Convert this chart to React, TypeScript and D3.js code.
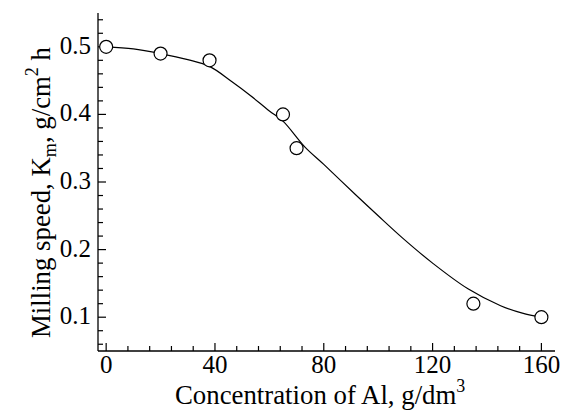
import React from "react";
import * as d3 from "d3";

const concentration = [0, 20, 38, 65, 70, 135, 160];
const millingSpeed = [0.5, 0.49, 0.48, 0.4, 0.35, 0.12, 0.1];

const fitX = [0, 10, 20, 30, 38, 46, 53, 60, 65, 73, 80, 92, 100, 109, 120, 133, 145, 153, 160];
const fitY = [0.5, 0.497, 0.49, 0.481, 0.471, 0.449, 0.428, 0.405, 0.39, 0.352, 0.326, 0.28, 0.25, 0.217, 0.18, 0.142, 0.117, 0.106, 0.1];

const xMajorTicks = [0, 40, 80, 120, 160];
const yMajorTicks = [0.1, 0.2, 0.3, 0.4, 0.5];
const xMinorStep = 8;
const yMinorStep = 0.02;

const W = 567;
const H = 412;
const FONT = "Liberation Serif";

export default function App() {
  const x = d3.scaleLinear().domain([-3, 165]).range([98, 555]);
  const y = d3.scaleLinear().domain([0.05, 0.55]).range([351, 13]);

  const xMinor = d3.range(0, 160 + 0.001, xMinorStep).filter((v) => !xMajorTicks.includes(v));
  const yMinor = d3
    .range(0.06, 0.5401, yMinorStep)
    .map((v) => Math.round(v * 100) / 100)
    .filter((v) => !yMajorTicks.some((m) => Math.abs(m - v) < 1e-6));

  const line = d3
    .line<number>()
    .x((_, i) => x(fitX[i]))
    .y((d) => y(d))
    .curve(d3.curveCatmullRom.alpha(0.5));

  const x0 = x.range()[0];
  const x1 = x.range()[1];
  const yb = y.range()[0];
  const yt = y.range()[1];
  const ts = { fontFamily: FONT };

  return (
    <svg
      width={W}
      height={H}
      style={{ position: "absolute", left: 0, top: 0, background: "#fff", fontFamily: FONT }}
    >
      <rect width={W} height={H} fill="#fff" />
      <line x1={x0} x2={x0} y1={yt} y2={yb} stroke="#000" strokeWidth={1.3} />
      <line x1={x0} x2={x1} y1={yb} y2={yb} stroke="#000" strokeWidth={1.3} />
      {xMajorTicks.map((t) => (
        <g key={"xM" + t}>
          <line x1={x(t)} x2={x(t)} y1={yb} y2={yb - 8} stroke="#000" strokeWidth={1.2} />
          <text x={x(t)} y={yb + 22} textAnchor="middle" fontSize={25} style={ts}>
            {t}
          </text>
        </g>
      ))}
      {xMinor.map((t) => (
        <line key={"xm" + t} x1={x(t)} x2={x(t)} y1={yb} y2={yb - 5} stroke="#000" strokeWidth={1.2} />
      ))}
      {yMajorTicks.map((t) => (
        <g key={"yM" + t}>
          <line x1={x0} x2={x0 + 8} y1={y(t)} y2={y(t)} stroke="#000" strokeWidth={1.2} />
          <text x={x0 - 7} y={y(t) + 7} textAnchor="end" fontSize={25} style={ts}>
            {t.toFixed(1)}
          </text>
        </g>
      ))}
      {yMinor.map((t) => (
        <line key={"ym" + t} x1={x0} x2={x0 + 5} y1={y(t)} y2={y(t)} stroke="#000" strokeWidth={1.2} />
      ))}
      <path d={line(fitY) || ""} fill="none" stroke="#000" strokeWidth={1.2} />
      {concentration.map((c, i) => (
        <circle key={"p" + i} cx={x(c)} cy={y(millingSpeed[i])} r={6.5} fill="#fff" stroke="#000" strokeWidth={1.2} />
      ))}
      <text x={175} y={404} fontSize={26.8} style={ts}>
        Concentration of Al, g/dm
        <tspan fontSize={18} dy={-12}>3</tspan>
      </text>
      <text transform={`translate(50,338) rotate(-90)`} fontSize={26.8} style={ts}>
        Milling speed, K
        <tspan fontSize={18} dy={6}>m</tspan>
        <tspan dy={-6}>, g/cm</tspan>
        <tspan fontSize={18} dy={-12}>2</tspan>
        <tspan dy={12}> h</tspan>
      </text>
    </svg>
  );
}
